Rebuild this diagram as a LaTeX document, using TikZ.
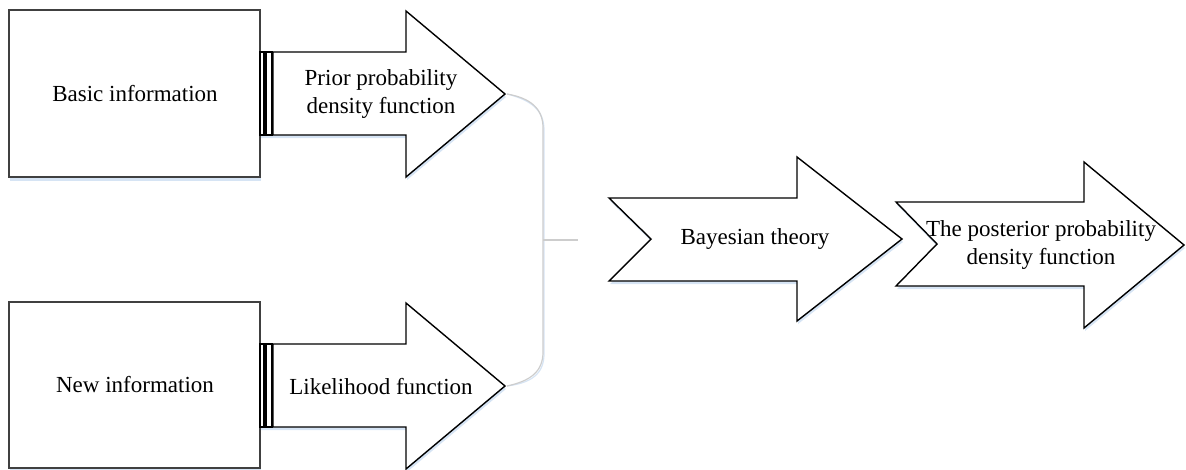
\documentclass[tikz,border=0pt]{standalone}
\usepackage{fontspec}
\setmainfont{Liberation Serif}
\usetikzlibrary{positioning}

\definecolor{shadowblue}{RGB}{214,228,244}
\definecolor{bracegray}{RGB}{205,205,205}

\tikzset{
    shape line/.style={draw=black, line width=1.4pt, fill=white, line join=miter},
    box line/.style={draw=black!75, line width=1.4pt, fill=white},
    under/.style={fill=shadowblue, draw=none},
    label text/.style={font=\fontsize{23}{28}\selectfont, align=center, inner sep=0pt},
    brace line/.style={draw=bracegray, line width=1.2pt}
}

\begin{document}
\begin{tikzpicture}[x=1pt, y=-1pt]
    \useasboundingbox (0,0) rectangle (1186,469);

    % boxes
    \fill[under] (10,12) rectangle (261,181);
    \draw[box line] (9,10) rectangle (260,177);
    \fill[under] (10,304) rectangle (261,470);
    \draw[box line] (9,302) rectangle (260,468);
    \node[label text] (basic) at (135,94) {Basic information};
    \node[label text] (new) at (135,385) {New information};

    % arrows out of the boxes
    \foreach \yy/\name in {0/prior, 292/likeli} {
        \begin{scope}[yshift=-\yy pt]
            \fill[under, shift={(1,3)}] (260,52) -- (406,52) -- (406,11) -- (505,94)
                -- (406,177) -- (406,135) -- (260,135) -- cycle;
            \draw[shape line] (273,52) -- (406,52) -- (406,11) -- (505,94)
                -- (406,177) -- (406,135) -- (273,135) -- cycle;
            \draw[shape line, line width=1.2pt] (260,52) rectangle (264,135);
            \draw[shape line, line width=1.2pt] (266,52) rectangle (272,135);
            \coordinate (\name tip) at (507,94);
        \end{scope}
    }
    \node[label text] (priortext) at (381,94) {Prior probability\\density function};
    \node[label text] (likelitext) at (381,387) {Likelihood function};

    % Bayesian theory
    \fill[under, shift={(1,3)}] (609,198) -- (797,198) -- (797,157) -- (902,239)
        -- (797,321) -- (797,281) -- (609,281) -- (651,239) -- cycle;
    \draw[shape line] (609,198) -- (797,198) -- (797,157) -- (902,239)
        -- (797,321) -- (797,281) -- (609,281) -- (651,239) -- cycle;
    \coordinate (bayesin) at (578,240);
    \node[label text] (bayes) at (755,239) {Bayesian theory};

    % posterior
    \fill[under, shift={(1,3)}] (896,202) -- (1084,202) -- (1084,162) -- (1184,245)
        -- (1084,328) -- (1084,286) -- (896,286) -- (937,244) -- cycle;
    \draw[shape line] (896,202) -- (1084,202) -- (1084,162) -- (1184,245)
        -- (1084,328) -- (1084,286) -- (896,286) -- (937,244) -- cycle;
    \node[label text] (posterior) at (1041,245) {The posterior probability\\density function};

    % bracket joining the two inputs
    \coordinate (bend) at (543,240);
    \draw[brace line, draw=shadowblue, shift={(1,2)}] (priortip) .. controls (530,98) and (543,108) .. (543,128)
        -- (543,352) .. controls (543,372) and (530,381) .. (likelitip);
    \draw[brace line, draw=shadowblue, shift={(0,2)}] (bend) -- (bayesin);
    \draw[brace line] (priortip) .. controls (530,98) and (543,108) .. (543,128)
        -- (543,352) .. controls (543,372) and (530,381) .. (likelitip);
    \draw[brace line] (bend) -- (bayesin);
\end{tikzpicture}
\end{document}
